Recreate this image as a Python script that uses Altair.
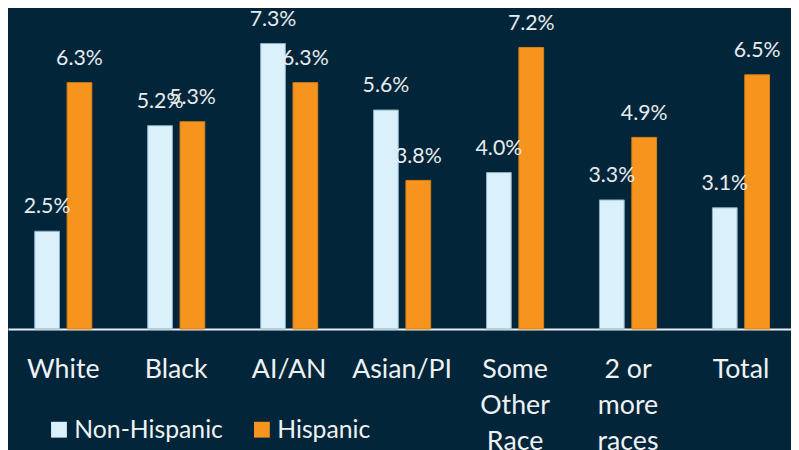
import altair as alt
import pandas as pd

categories = ["White", "Black", "AI/AN", "Asian/PI", "Some\nOther\nRace", "2 or\nmore\nraces", "Total"]
groups = ["Non-Hispanic", "Hispanic"]
non_hispanic = [2.5, 5.2, 7.3, 5.6, 4.0, 3.3, 3.1]
hispanic = [6.3, 5.3, 6.3, 3.8, 7.2, 4.9, 6.5]

rows = []
for c, a, b in zip(categories, non_hispanic, hispanic):
    rows.append({"cat": c, "group": groups[0], "value": a})
    rows.append({"cat": c, "group": groups[1], "value": b})
df = pd.DataFrame(rows)

BG = "#022539"
FONT = "Lato"
TXT = "#eef2f4"

x = alt.X("cat:N", sort=categories, title=None,
          scale=alt.Scale(paddingInner=0.114, paddingOuter=0.02325, align=1),
          axis=alt.Axis(labelExpr="split(datum.label, '\\n')", labelAngle=0,
                        labelFontSize=27, labelColor=TXT, labelFont=FONT,
                        labelLineHeight=36.5, labelPadding=28, ticks=False,
                        domainColor="#e8eef2", domainWidth=2, grid=False,
                        labelBaseline="top"))
xo = alt.XOffset("group:N", sort=groups,
                 scale=alt.Scale(domain=groups, paddingInner=0.2355, paddingOuter=0.6636))
y = alt.Y("value:Q", scale=alt.Scale(domain=[0, 8.152]), axis=None)

bars = alt.Chart(df).mark_bar(strokeWidth=1).encode(
    x=x, xOffset=xo, y=y,
    color=alt.Color("group:N", sort=groups,
                    scale=alt.Scale(domain=groups, range=["#daf0fa", "#f7941d"]),
                    legend=alt.Legend(title=None, orient="none", direction="horizontal",
                                      legendX=39, legendY=411, padding=0,
                                      symbolType="square",
                                      symbolSize=256, symbolStrokeWidth=0,
                                      labelFontSize=25, labelColor=TXT,
                                      labelFont=FONT, labelOffset=3, columnPadding=26,
                                      symbolOpacity=1)),
    stroke=alt.Stroke("group:N", sort=groups,
                      scale=alt.Scale(domain=groups, range=["#8fb0c2", "#d98219"]),
                      legend=None),
)

labels = alt.Chart(df).transform_calculate(
    label="format(datum.value, '.1f') + '%'"
).mark_text(baseline="alphabetic", dy=-18, fontSize=21.5, font=FONT, color="#e6ecef").encode(
    x=x, xOffset=xo, y=y, text="label:N"
)

chart = alt.layer(bars, labels).properties(
    width=791, height=322,
    autosize=alt.AutoSizeParams(type="none"),
    padding={"left": 0, "top": 0, "right": 0, "bottom": 120},
    background=BG,
).configure_view(stroke=None)

chart.save("out.html", embed_options={"renderer": "svg", "actions": False})
